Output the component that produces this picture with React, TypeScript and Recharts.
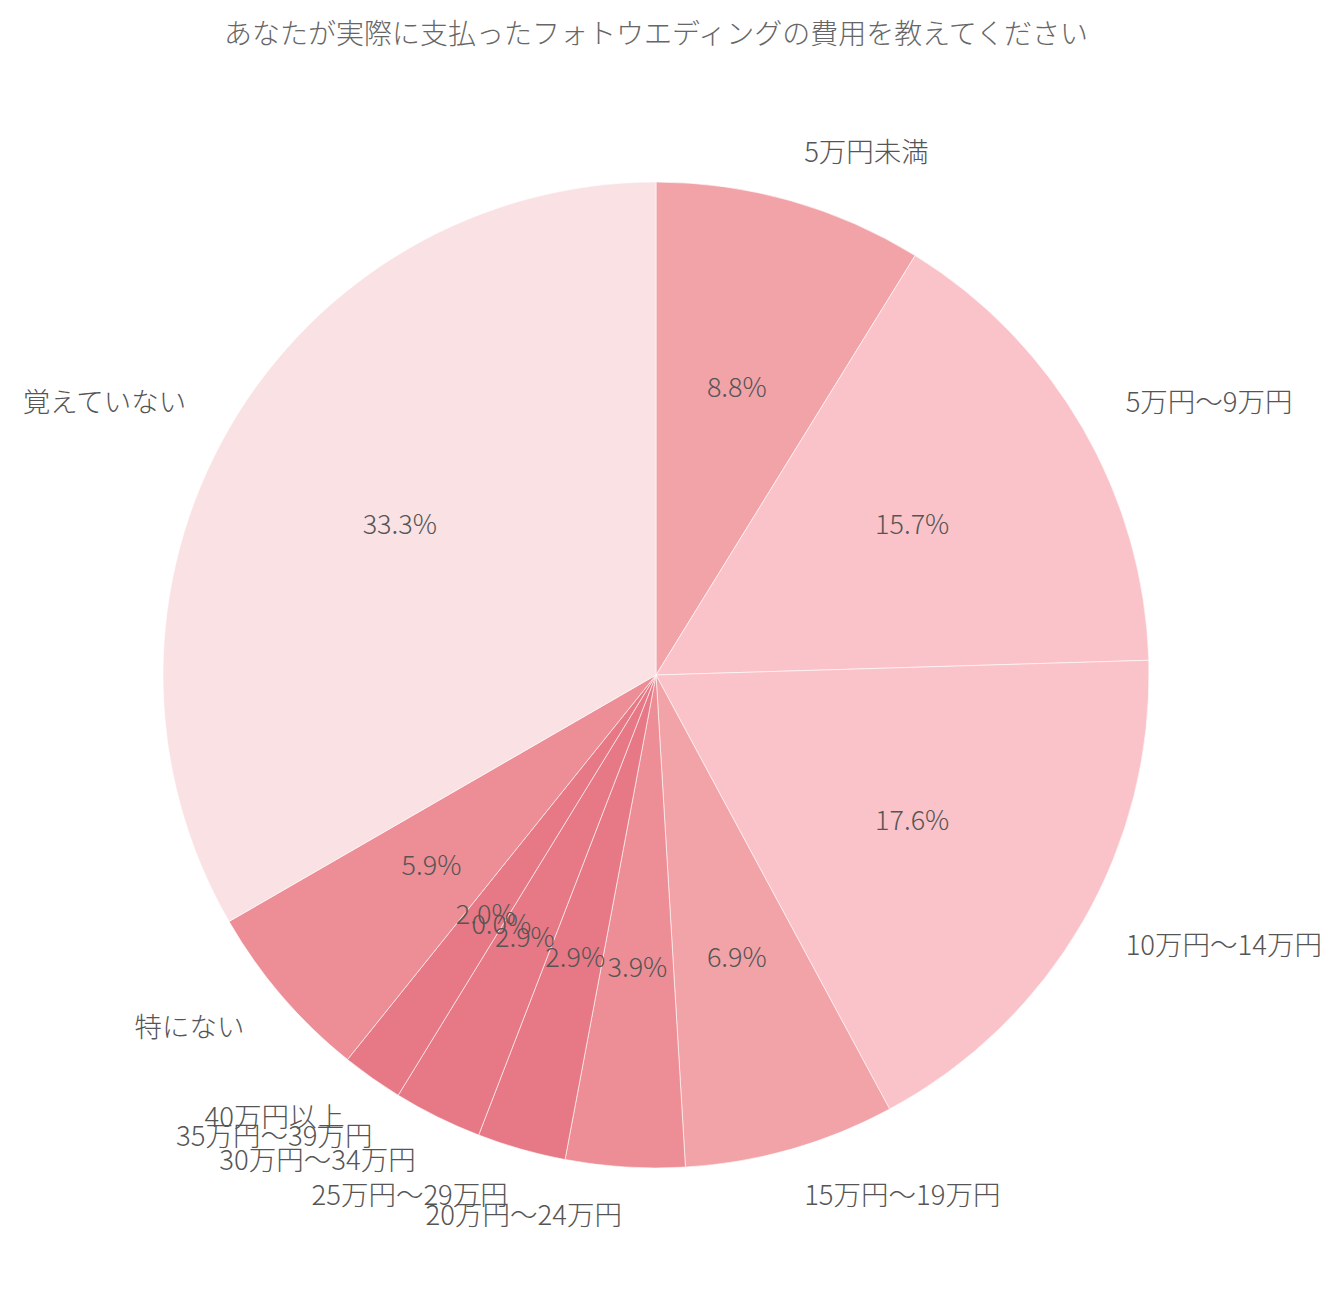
import React from "react";
import { PieChart, Pie, Cell } from "recharts";

const categories = [
  "5万円未満",
  "5万円〜9万円",
  "10万円〜14万円",
  "15万円〜19万円",
  "20万円〜24万円",
  "25万円〜29万円",
  "30万円〜34万円",
  "35万円〜39万円",
  "40万円以上",
  "特にない",
  "覚えていない",
];

const percentages = [8.8, 15.7, 17.6, 6.9, 3.9, 2.9, 2.9, 0.0, 2.0, 5.9, 33.3];

const colors = [
  "#F2A3A8",
  "#FAC3C9",
  "#FAC3C9",
  "#F2A3A8",
  "#ED8D95",
  "#E77885",
  "#E77885",
  "#E77885",
  "#E77885",
  "#ED8D95",
  "#F9E1E4",
];

const title = "あなたが実際に支払ったフォトウエディングの費用を教えてください";

const data = categories.map((name, i) => ({ name, value: percentages[i] }));

const FONT = '"Noto Sans CJK JP Light", "Noto Sans CJK JP", "Noto Sans", sans-serif';
const RAD = Math.PI / 180;

const renderLabel = (props: any) => {
  const { cx, cy, midAngle, outerRadius, index } = props;
  const cos = Math.cos(-midAngle * RAD);
  const sin = Math.sin(-midAngle * RAD);
  const ro = outerRadius * 1.1;
  const rp = outerRadius * 0.6;
  const ox = cx + ro * cos;
  const oy = cy + ro * sin;
  const px = cx + rp * cos;
  const py = cy + rp * sin;
  return (
    <g key={`lbl-${index}`}>
      <text
        x={ox}
        y={oy - 3.5}
        textAnchor={ox > cx ? "start" : "end"}
        dominantBaseline="central"
        fill="#555555"
        fontSize={27.5}
        fontWeight={300}
        fontFamily={FONT}
      >
        {categories[index]}
      </text>
      <text
        x={px}
        y={py - 4.5}
        textAnchor="middle"
        dominantBaseline="central"
        fill="#555555"
        fontSize={27}
        fontWeight={300}
        fontFamily={FONT}
      >
        {percentages[index].toFixed(1) + "%"}
      </text>
    </g>
  );
};

export default function App() {
  return (
    <div
      style={{
        position: "absolute",
        left: 0,
        top: 0,
        width: 1342,
        height: 1311,
        background: "#ffffff",
      }}
    >
      <div
        style={{
          position: "absolute",
          left: 0,
          top: 13,
          width: 1312,
          textAlign: "center",
          fontFamily: FONT,
          fontWeight: 300,
          fontSize: 28,
          lineHeight: "38px",
          color: "#666666",
        }}
      >
        {title}
      </div>
      <PieChart
        width={1342}
        height={1311}
        margin={{ top: 0, right: 0, bottom: 0, left: 0 }}
        style={{ position: "absolute", left: 0, top: 0 }}
      >
        <Pie
          data={data}
          dataKey="value"
          nameKey="name"
          cx={656}
          cy={675}
          outerRadius={493}
          startAngle={90}
          endAngle={-270}
          stroke="#ffffff"
          strokeWidth={0.6}
          label={renderLabel}
          labelLine={false}
          isAnimationActive={false}
        >
          {data.map((d, i) => (
            <Cell key={d.name} fill={colors[i]} />
          ))}
        </Pie>
      </PieChart>
    </div>
  );
}
